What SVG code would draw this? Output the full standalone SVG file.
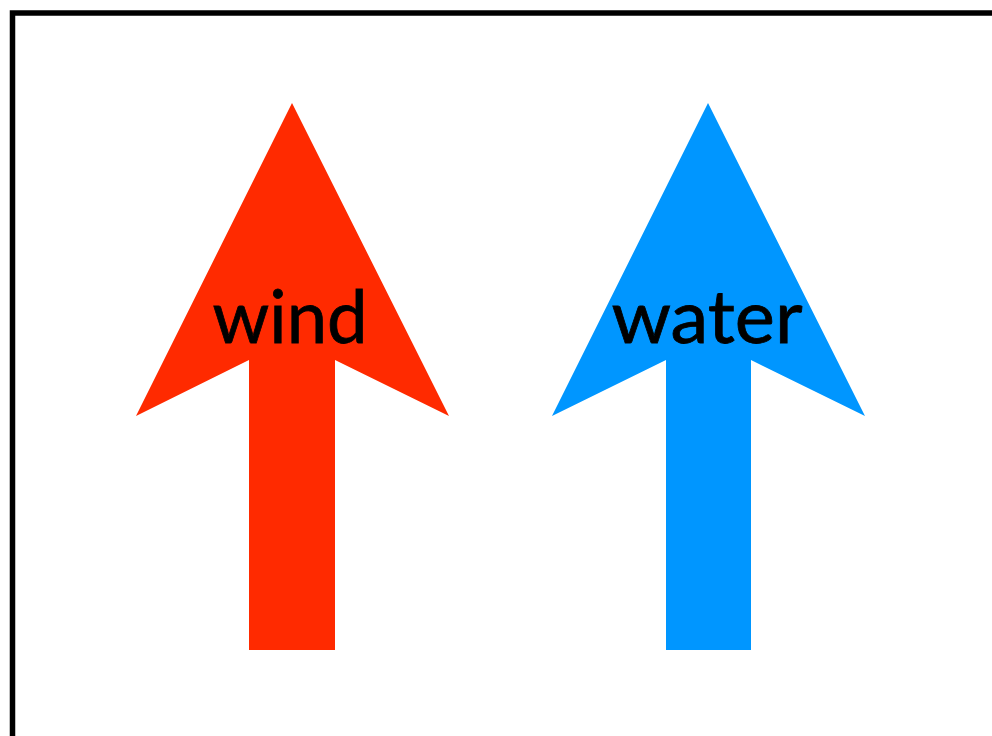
<svg xmlns="http://www.w3.org/2000/svg" width="992" height="736" viewBox="0 0 992 736">
<style>
.lbl{font-family:Lato,"Open Sans","Liberation Sans",sans-serif;font-size:74px;fill:#000;text-anchor:middle;stroke:#000;stroke-width:0.8}
</style>
<rect x="0" y="0" width="992" height="736" fill="#fff"/>
<rect id="frame" x="12.5" y="13" width="1000" height="760" fill="none" stroke="#000" stroke-width="5.5"/>
<g id="wind">
<polygon points="292,103 449,416 335,360 335,650 249,650 249,360 136,416" fill="#ff2a00"/>
<text class="lbl" x="290" y="343" textLength="155" lengthAdjust="spacingAndGlyphs">wind</text>
</g>
<g id="water">
<polygon points="708,103 865,416 751,360 751,650 666,650 666,360 552,416" fill="#0096ff"/>
<text class="lbl" x="707" y="343" textLength="191" lengthAdjust="spacingAndGlyphs">water</text>
</g>
<g id="connectors"></g>
</svg>
